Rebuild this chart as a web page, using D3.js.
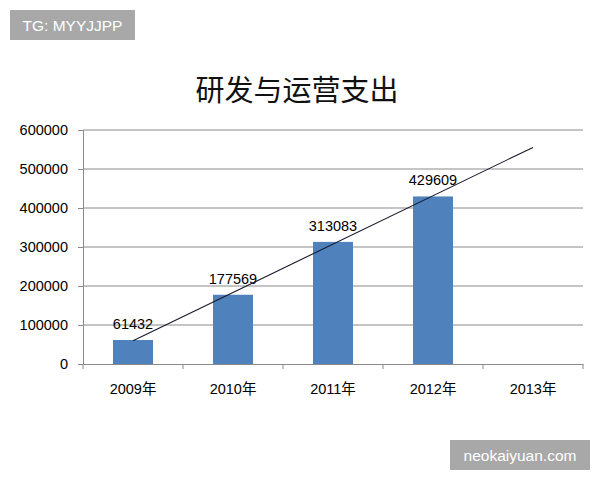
<!DOCTYPE html>
<html><head><meta charset="utf-8">
<script src="https://cdn.jsdelivr.net/npm/d3@7"></script>
<style>body{margin:0;background:#fff}svg{display:block}</style>
</head><body>
<script>
const categories = ["2009年","2010年","2011年","2012年","2013年"];
const values = [61432, 177569, 313083, 429609, null];
const yTicks = [0,100000,200000,300000,400000,500000,600000];
const title = "研发与运营支出";

const W=600,H=480;
const svg=d3.select("body").append("svg").attr("width",W).attr("height",H);
const x=d3.scaleBand().domain(categories).range([83,583]).paddingInner(0).paddingOuter(0);
const y=d3.scaleLinear().domain([0,600000]).range([364,130]);
const num='"Liberation Sans", Arial, sans-serif';

// gridlines
svg.append("g").selectAll("line").data(yTicks.slice(1)).join("line")
  .attr("x1",83).attr("x2",583).attr("y1",d=>y(d)).attr("y2",d=>y(d))
  .attr("stroke","#8a8a8a").attr("stroke-width",1);

// y axis
const ya=svg.append("g").attr("transform","translate(83,0)")
  .call(d3.axisLeft(y).tickValues(yTicks).tickFormat(d3.format("d")).tickSize(5).tickPadding(10));
ya.select(".domain").attr("stroke","#8a8a8a");
ya.selectAll(".tick line").attr("stroke","#8a8a8a");
ya.selectAll("text").attr("font-family",num).attr("font-size",14.5).attr("fill","#000");

// x axis
const xa=svg.append("g").attr("transform","translate(0,364)")
  .call(d3.axisBottom(x).tickSize(0).tickPadding(20));
xa.select(".domain").attr("stroke","#8a8a8a");
xa.selectAll("text").attr("font-family",'"Liberation Sans","Noto Sans CJK SC",sans-serif').attr("font-size",14.5).attr("fill","#000");
svg.append("g").selectAll("line").data(categories.concat(["end"])).join("line")
  .attr("x1",(d,i)=>83+i*x.bandwidth()).attr("x2",(d,i)=>83+i*x.bandwidth())
  .attr("y1",364).attr("y2",369).attr("stroke","#8a8a8a");

// bars
const data=categories.map((c,i)=>({c,v:values[i]})).filter(d=>d.v!=null);
const bw=40;
svg.append("g").selectAll("rect").data(data).join("rect")
  .attr("x",d=>x(d.c)+x.bandwidth()/2-bw/2).attr("width",bw)
  .attr("y",d=>y(d.v)).attr("height",d=>y(0)-y(d.v)).attr("fill","#4f81bd");

// labels
svg.append("g").selectAll("text").data(data).join("text")
  .attr("x",d=>x(d.c)+x.bandwidth()/2).attr("y",d=>y(d.v)-11)
  .attr("text-anchor","middle").attr("font-family",num).attr("font-size",14.5).text(d=>d.v);

// linear trendline (least squares over known points), extended to last category
const n=data.length, xs=data.map((d,i)=>i+1), ys=data.map(d=>d.v);
const mx=d3.mean(xs), my=d3.mean(ys);
const slope=d3.sum(xs.map((xi,i)=>(xi-mx)*(ys[i]-my)))/d3.sum(xs.map(xi=>(xi-mx)**2));
const icpt=my-slope*mx;
const cx=i=>x(categories[i])+x.bandwidth()/2;
svg.append("line").attr("x1",cx(0)).attr("y1",y(icpt+slope*1))
  .attr("x2",cx(categories.length-1)).attr("y2",y(icpt+slope*categories.length))
  .attr("stroke","#1a1a2e").attr("stroke-width",1.1);

// title
svg.append("text").attr("x",297).attr("y",101).attr("text-anchor","middle")
  .attr("font-family",'"Noto Sans CJK SC",sans-serif').attr("font-size",29).attr("fill","#111").text(title);

// watermarks
function badge(x0,y0,w,h,t){
  svg.append("rect").attr("x",x0).attr("y",y0).attr("width",w).attr("height",h).attr("fill","#a8a8a8");
  svg.append("text").attr("x",x0+w/2).attr("y",y0+h/2+5.5).attr("text-anchor","middle")
    .attr("font-family",'"Liberation Sans",Arial,sans-serif').attr("font-size",15.5).attr("fill","#fff").text(t);
}
badge(10,10,125,30,"TG: MYYJJPP");
badge(450,440,140,30,"neokaiyuan.com");
</script>
</body></html>
